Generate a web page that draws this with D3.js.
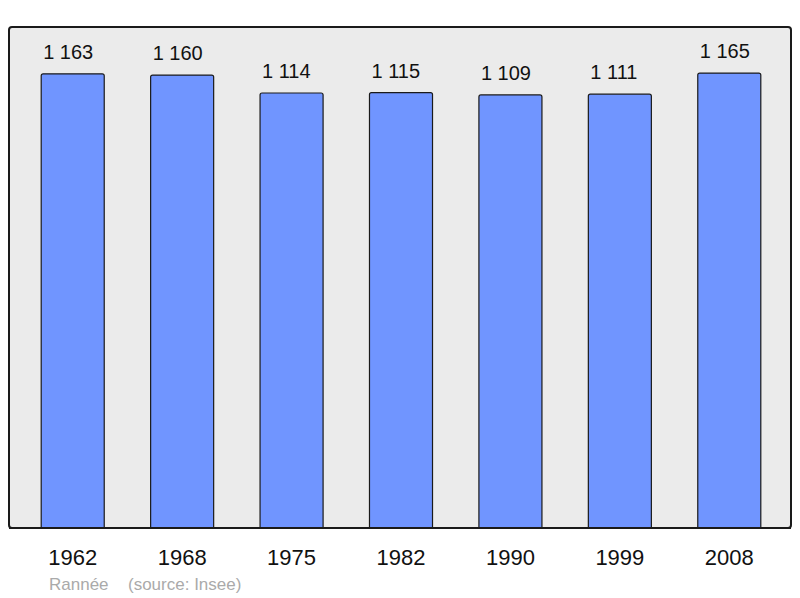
<html lang="fr">
<head>
<meta charset="utf-8">
<title>Population</title>
<script src="https://cdn.jsdelivr.net/npm/d3@7"></script>
<style>
  body { margin: 0; background: #fff; }
  text { font-family: "Liberation Sans", Arial, sans-serif; }
</style>
</head>
<body>
<script>
var years = ["1962", "1968", "1975", "1982", "1990", "1999", "2008"];
var population = [1163, 1160, 1114, 1115, 1109, 1111, 1165];
var valueLabels = ["1 163", "1 160", "1 114", "1 115", "1 109", "1 111", "1 165"];

var w = 800, h = 598;
var frame = {x: 9, y: 27, w: 782, h: 501};

var svg = d3.select("body").append("svg")
  .attr("width", w)
  .attr("height", h);

// frame
svg.append("rect")
  .attr("x", frame.x)
  .attr("y", frame.y)
  .attr("width", frame.w)
  .attr("height", frame.h)
  .attr("rx", 3)
  .attr("fill", "#ebebeb")
  .attr("stroke", "#1a1a1a")
  .attr("stroke-width", 2);

var xScale = d3.scaleBand()
  .domain(years)
  .range([18, 784])
  .paddingInner(0.424)
  .paddingOuter(0.212);

var yScale = d3.scaleLinear()
  .domain([0, 1283])
  .range([frame.y + frame.h, frame.y]);

var data = years.map(function(y, i) {
  return {year: y, value: population[i], label: valueLabels[i]};
});

// bars: rounded at top only, open at the bottom
svg.selectAll("path.bar")
  .data(data)
  .enter()
  .append("path")
  .attr("class", "bar")
  .attr("d", function(d) {
    var x0 = xScale(d.year), x1 = x0 + xScale.bandwidth();
    var y0 = yScale(d.value), y1 = yScale(0), r = 2;
    return "M" + x0 + "," + y1 + "V" + (y0 + r) + "Q" + x0 + "," + y0 + " " + (x0 + r) + "," + y0 +
      "H" + (x1 - r) + "Q" + x1 + "," + y0 + " " + x1 + "," + (y0 + r) + "V" + y1;
  })
  .attr("fill", "#7095ff")
  .attr("stroke", "#1a1a1a")
  .attr("stroke-width", 1.2);

// redraw frame bottom edge over bars
svg.append("line")
  .attr("x1", frame.x)
  .attr("x2", frame.x + frame.w)
  .attr("y1", frame.y + frame.h)
  .attr("y2", frame.y + frame.h)
  .attr("stroke", "#1a1a1a")
  .attr("stroke-width", 2);

// value labels (start-anchored just inside the bar's left edge)
svg.selectAll("text.value")
  .data(data)
  .enter()
  .append("text")
  .attr("class", "value")
  .attr("x", function(d) { return xScale(d.year) + 2; })
  .attr("y", function(d) { return yScale(d.value) - 15; })
  .attr("font-size", "20px")
  .attr("fill", "#111")
  .text(function(d) { return d.label; });

// year labels
var xAxis = d3.axisBottom(xScale).tickSize(0).tickPadding(0);
var gX = svg.append("g")
  .attr("transform", "translate(0," + 565 + ")")
  .call(xAxis);
gX.select(".domain").remove();
gX.selectAll("text")
  .attr("dy", 0)
  .attr("y", 0)
  .attr("font-size", "22px")
  .attr("font-family", "Liberation Sans, Arial, sans-serif")
  .attr("fill", "#111");

// footer
svg.append("text")
  .attr("x", 49)
  .attr("y", 590)
  .attr("font-size", "17px")
  .attr("fill", "#aaaaaa")
  .text("Rannée");
svg.append("text")
  .attr("x", 128)
  .attr("y", 590)
  .attr("font-size", "17px")
  .attr("fill", "#aaaaaa")
  .text("(source: Insee)");
</script>
</body>
</html>
